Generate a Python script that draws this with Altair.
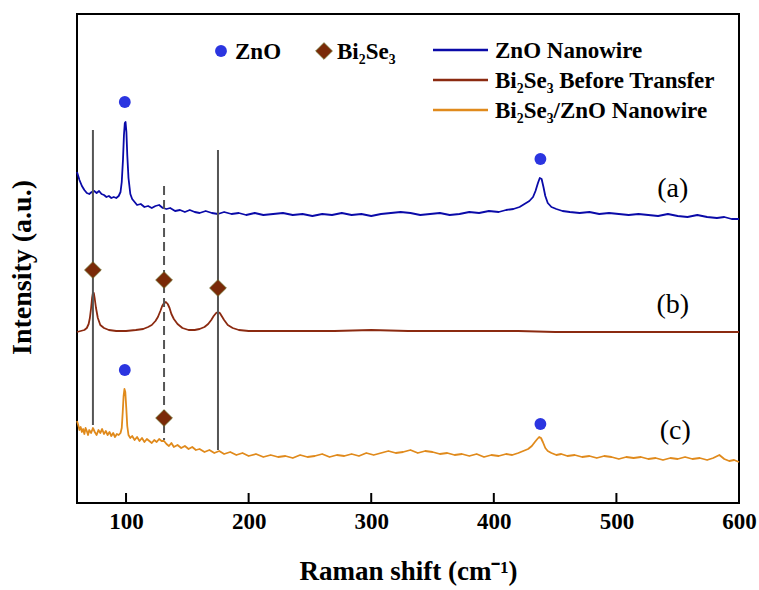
import altair as alt
import pandas as pd

FONT = "Liberation Serif"

# ---------------- data ----------------
# (a) ZnO Nanowire
a_x = [60, 61, 62, 64, 66, 68, 70, 72, 74, 76,
       78, 80, 82, 84, 86, 88, 90, 92, 94, 95.5,
       96.5, 97.5, 98.3, 99, 99.6, 100.3, 101, 102, 103.5, 105,
       107, 109, 112, 115, 118, 121, 124, 127, 130, 133,
       136, 140, 144, 148, 152, 156, 160, 165, 170, 175,
       180, 186, 192, 198, 205, 212, 220, 228, 236, 244,
       252, 260, 268, 276, 284, 292, 300, 308, 316, 324,
       332, 340, 348, 356, 364, 372, 380, 388, 396, 404,
       410, 416, 421, 425, 429, 432, 434, 436, 437.5, 439,
       440.5, 442, 444, 447, 451, 456, 462, 470, 478, 486,
       494, 502, 510, 518, 526, 534, 542, 550, 558, 566,
       574, 582, 588, 594, 600]
a_y = [331, 327, 323, 317, 313, 310, 309, 311, 312, 310,
       312, 309, 308, 306, 307, 305, 306, 305, 307, 311,
       321, 343, 368, 380, 381, 371, 348, 325, 309, 304,
       301, 298, 299, 296, 297, 295, 297, 298, 295, 294,
       295, 292, 293, 291, 293, 291, 290, 292, 290, 289,
       291, 289, 290, 288, 290, 288, 289, 290, 288, 289,
       287, 289, 288, 290, 288, 289, 287, 289, 290, 291,
       290, 288, 289, 290, 288, 289, 291, 290, 292, 291,
       293, 294, 296, 299, 302, 306, 312, 320, 325, 324,
       316, 307, 300, 296, 294, 292, 291, 290, 291, 289,
       290, 289, 288, 289, 288, 287, 289, 287, 286, 288,
       286, 285, 286, 284, 284]

# (b) Bi2Se3 Before Transfer
b_x = [60, 63, 66, 68, 69.5, 70.5, 71.5, 72.3, 73, 73.7,
       74.5, 75.5, 77, 79, 82, 86, 92, 100, 108, 114,
       118, 121, 124, 126, 128, 129.5, 131, 132.5, 134, 135.5,
       137, 139, 142, 146, 151, 156, 160, 164, 167, 169.5,
       171.5, 173.5, 175, 176.5, 178, 180, 183, 187, 192, 200,
       215, 240, 270, 300, 330, 360, 390, 420, 450, 480,
       510, 540, 570, 600]
b_y = [171, 172, 173, 175, 179, 185, 195, 205, 210, 210,
       204, 195, 185, 178, 175, 173, 172, 172, 173, 174,
       176, 178, 182, 186, 192, 197, 200, 201, 199, 195,
       189, 184, 179, 175, 173, 173, 174, 176, 179, 183,
       187, 190, 191, 190, 187, 183, 178, 175, 173, 172,
       172, 172, 172, 173, 172, 172, 172, 172, 171, 171,
       171, 171, 171, 171]

# (c) Bi2Se3/ZnO Nanowire
c_x = [60, 61, 62, 63, 64, 65, 66, 67, 68, 69,
       70, 71.5, 73, 74.5, 76, 77.5, 79, 80.5, 82, 83.5,
       85, 86.5, 88, 89.5, 91, 92.5, 94, 95.5, 96.5, 97.3,
       98, 98.7, 99.4, 100.2, 101, 102, 103.5, 105, 107, 109,
       111, 113, 115, 117, 119, 121, 123, 125, 127, 129,
       131, 133, 135, 137, 139, 142, 145, 148, 151, 154,
       157, 160, 164, 168, 172, 176, 180, 185, 190, 195,
       200, 206, 212, 218, 224, 230, 236, 242, 248, 254,
       260, 266, 272, 278, 284, 290, 296, 302, 308, 314,
       320, 326, 332, 338, 344, 350, 356, 362, 368, 374,
       380, 386, 392, 398, 404, 410, 415, 420, 424, 428,
       431, 433.5, 435.5, 437, 438.5, 440, 442, 444, 447, 451,
       455, 460, 466, 472, 478, 484, 490, 496, 502, 508,
       514, 520, 526, 532, 538, 544, 550, 556, 562, 568,
       574, 579, 584, 588, 592, 596, 600]
c_y = [82, 78, 73, 76, 71, 74, 69, 75, 72, 68,
       73, 70, 75, 71, 68, 73, 70, 74, 69, 72,
       68, 71, 67, 70, 66, 69, 68, 70, 75, 91,
       107, 114, 111, 95, 77, 68, 65, 67, 63, 66,
       62, 65, 61, 64, 62, 60, 63, 61, 64, 62,
       62, 59, 57, 60, 56, 58, 55, 57, 54, 56,
       53, 54, 51, 53, 50, 52, 49, 51, 48, 50,
       47, 49, 46, 48, 46, 47, 45, 48, 46, 47,
       49, 46, 48, 47, 49, 47, 50, 48, 50, 52,
       50, 51, 53, 50, 52, 51, 49, 50, 48, 49,
       47, 49, 46, 48, 47, 49, 48, 50, 52, 54,
       57, 61, 64, 66, 65, 61, 55, 52, 50, 48,
       49, 47, 48, 46, 47, 45, 47, 46, 44, 46,
       45, 46, 44, 45, 43, 45, 44, 46, 44, 45,
       43, 45, 48, 44, 42, 43, 41]

series_names = ["ZnO Nanowire", "Bi₂Se₃ Before Transfer", "Bi₂Se₃/ZnO Nanowire"]
series_colors = ["#0a0aa8", "#8b2a10", "#e08a1c"]

# peak markers
zno_x = [99, 438, 99, 438]
zno_y = [401, 344, 133, 79]
bise_x = [73, 131, 175, 131]
bise_y = [233, 223, 215, 85]

# reference lines
ref_x = [73, 131, 175]
ref_top = [373, 317, 353]
ref_bottom = [78, 63, 53]
ref_dashed = [False, True, False]

# trace labels
lab_text = ["(a)", "(b)", "(c)"]
lab_x = [546, 546, 548]
lab_y = [314, 198, 72]

tick_values = [100, 200, 300, 400, 500, 600]

# ---------------- build tables ----------------
spec_df = pd.concat([
    pd.DataFrame({"shift": a_x, "intensity": a_y, "series": series_names[0]}),
    pd.DataFrame({"shift": b_x, "intensity": b_y, "series": series_names[1]}),
    pd.DataFrame({"shift": c_x, "intensity": c_y, "series": series_names[2]}),
], ignore_index=True)
zno_df = pd.DataFrame({"shift": zno_x, "intensity": zno_y})
bise_df = pd.DataFrame({"shift": bise_x, "intensity": bise_y})
ref_df = pd.DataFrame({"shift": ref_x, "intensity": ref_top, "bottom": ref_bottom,
                       "dashed": ref_dashed})
lab_df = pd.DataFrame({"shift": lab_x, "intensity": lab_y, "t": lab_text})
tick_df = pd.DataFrame({"shift": tick_values})

XTITLE = "Raman shift (cm⁻¹)"
YTITLE = "Intensity (a.u.)"
xs = alt.Scale(domain=[60, 600], nice=False, zero=False)
ys = alt.Scale(domain=[0, 489], nice=False, zero=False)
X = alt.X("shift:Q", scale=xs, title=XTITLE)
Y = alt.Y("intensity:Q", scale=ys, title=YTITLE)

lines = alt.Chart(spec_df).mark_line(strokeWidth=1.8, strokeJoin="round").encode(
    x=alt.X("shift:Q", scale=xs,
            axis=alt.Axis(values=tick_values, title=XTITLE, grid=False,
                          ticks=False, domain=False, labelPadding=7, titlePadding=25,
                          labelFont=FONT, labelFontSize=23, labelFontWeight="bold",
                          labelColor="black", titleFont=FONT, titleFontSize=27,
                          titleFontWeight="bold", titleColor="black", labelFlush=False)),
    y=alt.Y("intensity:Q", scale=ys,
            axis=alt.Axis(title=YTITLE, labels=False, ticks=False, grid=False,
                          domain=False, titlePadding=41, titleY=253, titleFont=FONT,
                          titleFontSize=28, titleFontWeight="bold", titleColor="black")),
    color=alt.Color("series:N", scale=alt.Scale(domain=series_names, range=series_colors),
                    legend=None),
    detail="series:N",
)

refs_solid = alt.Chart(ref_df).transform_filter("!datum.dashed").mark_rule(
    color="#555555", strokeWidth=2).encode(x=X, y=Y, y2="bottom:Q")
refs_dash = alt.Chart(ref_df).transform_filter("datum.dashed").mark_rule(
    color="#555555", strokeWidth=2, strokeDash=[9, 5]).encode(x=X, y=Y, y2="bottom:Q")

ticks = alt.Chart(tick_df).mark_rule(color="black", strokeWidth=2).encode(
    x=X, y=alt.value(489), y2=alt.value(479))

zno_pts = alt.Chart(zno_df).mark_point(shape="circle", filled=True, size=140,
                                       color="#2b35e0", opacity=1).encode(x=X, y=Y)
bise_pts = alt.Chart(bise_df).mark_point(shape="diamond", filled=True, size=280,
                                         color="#7a2a08", opacity=1, stroke="#6b6b2a",
                                         strokeWidth=0.8).encode(x=X, y=Y)

labels = alt.Chart(lab_df).mark_text(font=FONT, fontSize=28, color="black",
                                     align="center", baseline="middle").encode(
    x=X, y=Y, text="t:N")

# ---------------- legend (drawn by hand) ----------------
one = pd.DataFrame({"k": [0]})
LFS = 23
leg = []
leg.append(alt.Chart(one).mark_point(shape="circle", filled=True, size=140, color="#2b35e0",
                                      opacity=1).encode(x=alt.value(144), y=alt.value(37)))
leg.append(alt.Chart(one).mark_text(font=FONT, fontSize=LFS, fontWeight="bold", align="left",
                                     baseline="middle", color="black").encode(
    x=alt.value(158), y=alt.value(38), text=alt.value("ZnO")))
leg.append(alt.Chart(one).mark_point(shape="diamond", filled=True, size=280, color="#7a2a08",
                                      opacity=1, stroke="#6b6b2a", strokeWidth=0.8).encode(
    x=alt.value(247), y=alt.value(37)))
leg.append(alt.Chart(one).mark_text(font=FONT, fontSize=LFS, fontWeight="bold", align="left",
                                     baseline="middle", color="black").encode(
    x=alt.value(260), y=alt.value(38), text=alt.value("Bi₂Se₃")))
rows = [36, 66, 96]
for name, col, ry in zip(series_names, series_colors, rows):
    leg.append(alt.Chart(one).mark_rule(color=col, strokeWidth=2.5).encode(
        x=alt.value(356), x2=alt.value(411), y=alt.value(ry)))
    leg.append(alt.Chart(one).mark_text(font=FONT, fontSize=LFS, fontWeight="bold",
                                         align="left", baseline="middle",
                                         color="black").encode(
        x=alt.value(418), y=alt.value(ry + 1), text=alt.value(name)))

chart = alt.layer(lines, refs_solid, refs_dash, ticks, zno_pts, bise_pts, labels, *leg).properties(
    width=662, height=489,
    padding={"left": 77, "top": 14, "right": 20, "bottom": 87},
    autosize="none",
    background="white",
).configure_view(stroke="black", strokeWidth=2)

chart.save("out.html", embed_options={"renderer": "svg", "actions": False})
